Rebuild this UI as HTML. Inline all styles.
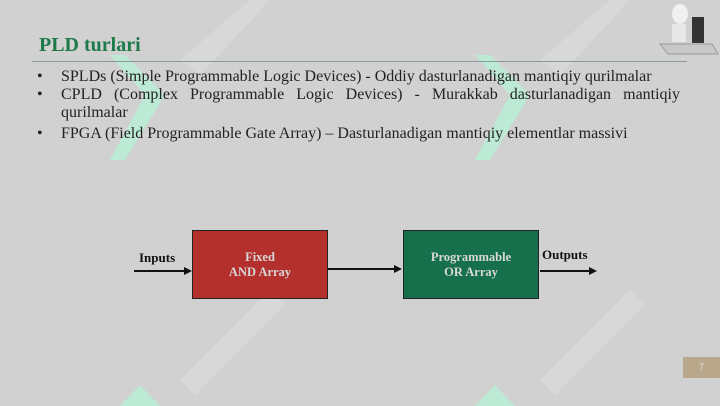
<!DOCTYPE html>
<html><head><style>
body{margin:0;width:720px;height:406px;background:#d1d1d1;position:relative;overflow:hidden;font-family:"Liberation Serif",serif;}
.t{position:absolute;left:39px;top:34px;font-size:20px;font-weight:bold;color:#1e7a4a;}
.line{position:absolute;left:32px;top:61px;width:655px;height:1px;background:#8a9aa0;}
ul{position:absolute;left:37px;top:68px;width:643px;margin:0;padding:0;list-style:none;font-size:16px;color:#222;line-height:18px;}
li{position:relative;padding-left:24px;text-align:justify;}
li:before{content:"•";position:absolute;left:0;}
.box{position:absolute;top:230px;width:134px;height:67px;border:1.5px solid #222;color:#d8d8d8;font-weight:bold;font-size:12.5px;text-align:center;display:flex;align-items:center;justify-content:center;line-height:15px;font-family:"Liberation Serif",serif;}
.lbl{position:absolute;font-weight:bold;font-size:13px;color:#111;}
.pg{position:absolute;left:683px;top:357px;width:37px;height:21px;background:#b9a88b;color:#eee;font-size:9px;text-align:center;line-height:21px;}
</style></head><body>
<svg width="720" height="406" style="position:absolute;left:0;top:0">
<g fill="#b8f0d4" opacity="0.8">
<polygon points="110,55 125,55 165,95 125,160 110,160 145,95"/>
<polygon points="475,55 490,55 530,95 490,160 475,160 510,95"/>
<polygon points="120,406 140,385 160,406"/>
<polygon points="475,406 495,385 515,406"/>
</g>
<g fill="#d8d8d8"><polygon points="180,60 250,0 270,0 200,75"/><polygon points="540,60 610,0 630,0 560,75"/>
<polygon points="180,380 270,290 285,305 195,395"/><polygon points="540,380 630,290 645,305 555,395"/></g>
<g stroke="#111" stroke-width="2" fill="#111">
<line x1="134" y1="271" x2="186" y2="271"/><polygon points="192,271 184,267 184,275" stroke="none"/>
<line x1="328" y1="269" x2="396" y2="269"/><polygon points="402,269 394,265 394,273" stroke="none"/>
<line x1="540" y1="271" x2="590" y2="271"/><polygon points="597,271 589,267 589,275" stroke="none"/>
</g>
<g><ellipse cx="680" cy="14" rx="8" ry="10" fill="#f0f0f0"/><rect x="672" y="24" width="14" height="18" fill="#e8e8e8"/><rect x="692" y="17" width="12" height="26" fill="#333"/><polygon points="660,44 712,44 718,54 668,54" fill="#c8c8c8" stroke="#999"/></g>
</svg>
<div class="t">PLD turlari</div>
<div class="line"></div>
<ul>
<li>SPLDs (Simple Programmable Logic Devices) - Oddiy dasturlanadigan mantiqiy qurilmalar</li>
<li>CPLD (Complex Programmable Logic Devices) - Murakkab dasturlanadigan mantiqiy qurilmalar</li>
<li style="margin-top:3px">FPGA (Field Programmable Gate Array) – Dasturlanadigan mantiqiy elementlar massivi</li>
</ul>
<div class="box" style="left:192px;background:#b3302c">Fixed<br>AND Array</div>
<div class="box" style="left:403px;background:#17704c">Programmable<br>OR Array</div>
<div class="lbl" style="left:139px;top:250px">Inputs</div>
<div class="lbl" style="left:542px;top:247px">Outputs</div>
<div class="pg">7</div>
</body></html>
